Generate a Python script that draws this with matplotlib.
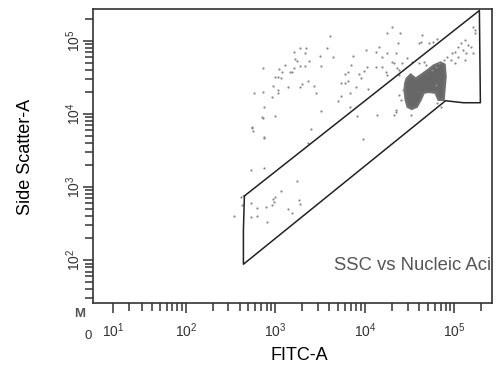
import numpy as np
import matplotlib
matplotlib.use("Agg")
import matplotlib.pyplot as plt
from matplotlib.ticker import FixedLocator, NullFormatter

plt.rcParams['font.family'] = ['Liberation Sans', 'DejaVu Sans']
plt.rcParams['mathtext.fontset'] = 'custom'
plt.rcParams['mathtext.rm'] = 'Liberation Sans'
plt.rcParams['mathtext.it'] = 'Liberation Sans'

# --- data ---
# gate polygon (FITC-A, SSC-A)
gate_fitc = [452, 189600, 194500, 125900, 79430, 441, 441, 452]
gate_ssc = [753, 257600, 14150, 14150, 15070, 88, 258, 753]

# dense population outline, log10 units
cluster_log_fitc = [4.452, 4.467, 4.511, 4.567, 4.633, 4.711, 4.767, 4.844, 4.889, 4.900,
                    4.889, 4.878, 4.822, 4.789, 4.711, 4.656, 4.622, 4.578, 4.522, 4.478,
                    4.456, 4.444]
cluster_log_ssc = [4.421, 4.479, 4.534, 4.479, 4.534, 4.603, 4.658, 4.699, 4.671, 4.507,
                   4.356, 4.192, 4.192, 4.288, 4.301, 4.288, 4.192, 4.096, 4.068, 4.096,
                   4.192, 4.329]

# scattered events, log10 units
dot_log_fitc = [3.611, 3.578, 3.278, 3.344, 3.211, 3.333, 3.500, 3.644, 3.222, 3.244,
                3.378, 3.111, 3.278, 3.333, 3.511, 2.867, 3.044, 3.211, 3.078, 3.167,
                3.189, 3.000, 3.033, 3.067, 3.367, 3.300, 2.978, 3.144, 3.278, 3.433,
                3.033, 3.033, 2.767, 2.867, 3.456, 2.967, 2.878, 2.867, 3.000, 3.511,
                3.867, 3.844, 3.811, 3.778, 3.933, 3.989, 4.022, 3.733, 3.778, 3.811,
                3.956, 3.900, 4.033, 3.833, 3.733, 3.700, 3.833, 3.911,
                4.300, 4.244, 4.389, 4.633, 4.622, 4.600, 4.367, 4.711, 4.756, 4.800,
                4.156, 4.122, 4.344, 4.244, 4.011, 4.189, 4.467, 4.522, 4.411, 4.300,
                4.122, 4.189, 4.233, 4.356, 4.378,
                5.211, 5.233, 5.233, 5.122, 5.078, 5.156, 5.044, 5.100, 5.011, 5.133,
                4.967, 4.911, 5.044, 4.878, 4.956, 4.822, 5.011, 5.122, 4.789, 4.744,
                4.678, 5.211, 5.189,
                4.378, 4.400, 4.344, 4.511, 4.422, 4.789, 4.800, 4.844, 4.322, 4.378,
                4.244, 4.600, 4.656, 4.344, 4.322, 4.133,
                2.856, 2.744, 2.756, 2.878, 3.367, 3.400, 2.733, 2.878, 3.244, 3.067,
                3.978, 2.622, 2.633, 2.733, 2.800, 2.900, 2.967, 2.978, 3.000, 2.989,
                3.144, 3.189, 3.267, 3.278, 2.733, 2.544, 2.911, 2.800, 2.744, 2.878]
dot_log_ssc = [5.068, 4.904, 4.904, 4.904, 4.849, 4.836, 4.795, 4.781, 4.753, 4.726,
               4.726, 4.671, 4.658, 4.658, 4.658, 4.630, 4.616, 4.630, 4.575, 4.575,
               4.575, 4.507, 4.507, 4.493, 4.452, 4.411, 4.384, 4.370, 4.370, 4.384,
               4.329, 4.288, 4.288, 4.301, 4.288, 4.233, 4.096, 3.945, 3.973, 4.041,
               4.795, 4.671, 4.575, 4.548, 4.548, 4.589, 4.644, 4.425, 4.425, 4.452,
               4.493, 4.370, 4.342, 4.288, 4.247, 4.178, 4.096, 3.973,
               5.192, 5.110, 5.110, 5.082, 4.986, 4.973, 4.973, 4.973, 4.986, 5.027,
               4.918, 4.849, 4.836, 4.836, 4.877, 4.781, 4.767, 4.712, 4.699, 4.712,
               4.644, 4.644, 4.575, 4.630, 4.534,
               5.192, 5.110, 5.151, 5.014, 4.973, 4.945, 4.918, 4.877, 4.849, 4.836,
               4.836, 4.781, 4.781, 4.740, 4.740, 4.699, 4.699, 4.740, 4.644, 4.603,
               4.671, 4.836, 4.918,
               4.260, 4.192, 4.055, 3.986, 4.329, 4.397, 4.151, 4.096, 4.699, 4.603,
               4.534, 4.699, 4.712, 4.027, 3.986, 3.986,
               3.959, 3.808, 3.767, 3.671, 3.603, 3.795, 3.233, 3.260, 3.082, 2.945,
               3.658, 2.863, 2.753, 2.781, 2.712, 2.726, 2.753, 2.836, 2.863, 2.795,
               2.699, 2.644, 2.822, 2.767, 2.589, 2.603, 2.521, 2.603, 3.822, 3.685]

x_major = [10, 100, 1000, 10000, 100000]
x_labels = ['$10^{1}$', '$10^{2}$', '$10^{3}$', '$10^{4}$', '$10^{5}$']
y_major = [100, 1000, 10000, 100000]
y_labels = ['$10^{2}$', '$10^{3}$', '$10^{4}$', '$10^{5}$']

W = 18.5  # width of linear region of the biexponential-like x scale


def fwd(x):
    return np.arcsinh(np.asarray(x, dtype=float) / W)


def inv(y):
    return W * np.sinh(np.asarray(y, dtype=float))


fig = plt.figure(figsize=(4.98, 3.67), dpi=100)
ax = fig.add_axes([93 / 498, 64 / 367, 399 / 498, 294 / 367])
ax.set_xscale('function', functions=(fwd, inv))
ax.set_yscale('log')
ax.set_xlim(0, 262144)
ax.set_ylim(26, 270000)

dot_c = '#888888'
ax.fill(10 ** np.array(cluster_log_fitc), 10 ** np.array(cluster_log_ssc),
        facecolor='#676767', edgecolor='#707070', lw=1.8, zorder=2)
ax.scatter(10 ** np.array(dot_log_fitc), 10 ** np.array(dot_log_ssc),
           s=2.5, c=dot_c, linewidths=0, zorder=2)
ax.plot(gate_fitc, gate_ssc, color='#222222', lw=1.1, zorder=3)

ax.text(0.604, 0.126, 'SSC vs Nucleic Acid', transform=ax.transAxes,
        fontsize=13.3, color='#555555', va='center', ha='left', clip_on=True)

# ticks
x_minor = [m * 10 ** d for d in range(1, 6) for m in range(2, 10) if m * 10 ** d < 262144]
y_minor = [m * 10 ** d for d in range(1, 6) for m in range(2, 10) if 26 < m * 10 ** d < 270000]
ax.xaxis.set_major_locator(FixedLocator(x_major))
ax.xaxis.set_minor_locator(FixedLocator(x_minor))
ax.yaxis.set_major_locator(FixedLocator(y_major))
ax.yaxis.set_minor_locator(FixedLocator(y_minor))
ax.set_xticklabels(x_labels)
ax.set_yticklabels(y_labels, rotation=90, va='center')
ax.xaxis.set_minor_formatter(NullFormatter())
ax.yaxis.set_minor_formatter(NullFormatter())
ax.tick_params(which='both', direction='out', color='#333333', width=1.1,
               labelsize=10, labelcolor='#333333')
ax.tick_params(which='major', length=7)
ax.tick_params(which='minor', length=6)
ax.tick_params(axis='x', which='major', pad=6)
ax.tick_params(axis='y', which='major', pad=0)

for sp in ax.spines.values():
    sp.set_color('#333333')
    sp.set_linewidth(1.2)

fig.text(80 / 498, 1 - 314 / 367, 'M', fontsize=9.5, fontweight='bold',
         color='#555555', ha='center', va='center')
fig.text(88 / 498, 1 - 336 / 367, '0', fontsize=9.5, color='#333333',
         ha='center', va='center')

fig.text(299 / 498, 1 - 355 / 367, 'FITC-A', fontsize=13, ha='center', va='center')
fig.text(25 / 498, 1 - 157 / 367, 'Side Scatter-A', fontsize=13, rotation=90,
         ha='center', va='center')

fig.savefig('out.png', dpi=100)
